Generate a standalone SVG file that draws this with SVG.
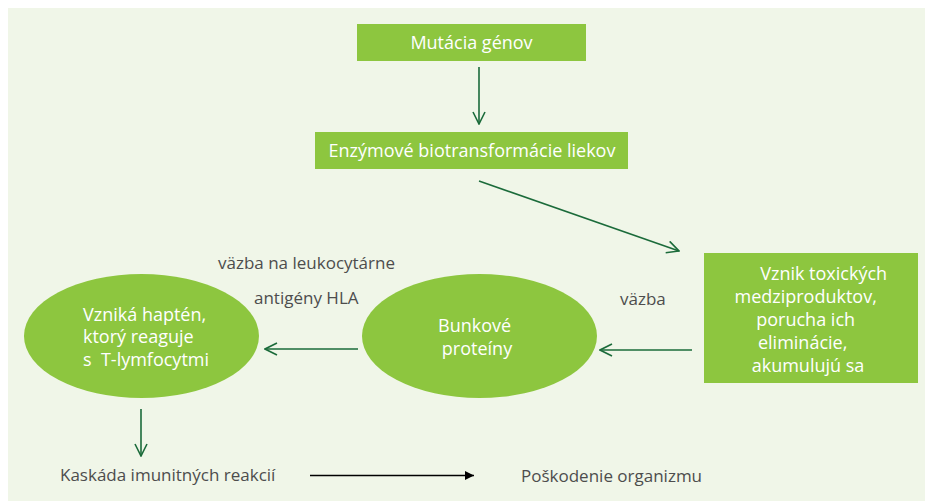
<svg xmlns="http://www.w3.org/2000/svg" width="925" height="501" viewBox="0 0 925 501">
<defs>
<style>
.panel{fill:#f0f6e8}
.node{fill:#8dc63f}
.wt{fill:#ffffff;font-family:"Open Sans","Noto Sans",sans-serif;font-size:18px}
.gt{fill:#4d4d4d;font-family:"Open Sans","Noto Sans",sans-serif;font-size:17px}
.gl{stroke:#1b6b3a;stroke-width:1.6;fill:none}
.bl{stroke:#000;stroke-width:1.6;fill:none}
</style>
<marker id="open" viewBox="0 0 14 14" refX="13" refY="7" markerWidth="14" markerHeight="14" markerUnits="userSpaceOnUse" orient="auto">
<path d="M1,1 L13,7 L1,13" fill="none" stroke="#1b6b3a" stroke-width="1.6"/>
</marker>
<marker id="solid" viewBox="0 0 10 10" refX="10" refY="5" markerWidth="9" markerHeight="9" markerUnits="userSpaceOnUse" orient="auto">
<path d="M0,0 L10,5 L0,10 Z" fill="#000"/>
</marker>
</defs>
<rect class="panel" x="8" y="8" width="917" height="493"/>

<g id="mutacia">
<rect class="node" x="357" y="24" width="229" height="37"/>
<text class="wt" x="471.5" y="49" text-anchor="middle">Mutácia génov</text>
</g>
<g id="enzymove">
<rect class="node" x="315" y="132" width="313" height="37"/>
<text class="wt" x="472" y="157" text-anchor="middle">Enzýmové biotransformácie liekov</text>
</g>
<g id="vznik">
<rect class="node" x="704" y="253" width="214" height="130"/>
<text class="wt" text-anchor="middle">
<tspan x="826" y="280">Vznik toxických</tspan>
<tspan x="808" y="303">medziproduktov,</tspan>
<tspan x="808" y="326">porucha ich</tspan>
<tspan x="805" y="349">eliminácie,</tspan>
<tspan x="808" y="372">akumulujú sa</tspan>
</text>
</g>
<g id="bunkove">
<ellipse class="node" cx="479.5" cy="336" rx="117.5" ry="62"/>
<text class="wt" text-anchor="middle">
<tspan x="477" y="332">Bunkové</tspan>
<tspan x="477" y="355">proteíny</tspan>
</text>
</g>
<g id="hapten">
<ellipse class="node" cx="141.5" cy="336" rx="117.5" ry="62"/>
<text class="wt">
<tspan x="83" y="321">Vzniká haptén,</tspan>
<tspan x="83" y="343">ktorý reaguje</tspan>
<tspan x="83" y="366">s&#160; T-lymfocytmi</tspan>
</text>
</g>
<g id="kaskada">
<text class="gt" x="60" y="481">Kaskáda imunitných reakcií</text>
</g>
<g id="poskodenie">
<text class="gt" x="521" y="482">Poškodenie organizmu</text>
</g>

<g id="connectors">
<line class="gl" x1="479" y1="67" x2="479" y2="124" marker-end="url(#open)"/>
<line class="gl" x1="479" y1="181" x2="679" y2="251" marker-end="url(#open)"/>
<line class="gl" x1="692" y1="350" x2="600" y2="350" marker-end="url(#open)"/>
<line class="gl" x1="358" y1="349" x2="265" y2="349" marker-end="url(#open)"/>
<line class="gl" x1="141" y1="409" x2="141" y2="456" marker-end="url(#open)"/>
<line class="bl" x1="310" y1="475.5" x2="474" y2="475.5" marker-end="url(#solid)"/>
<text class="gt" x="620" y="305">väzba</text>
<text class="gt" x="218" y="269">väzba na leukocytárne</text>
<text class="gt" x="254" y="304">antigény HLA</text>
</g>
</svg>
